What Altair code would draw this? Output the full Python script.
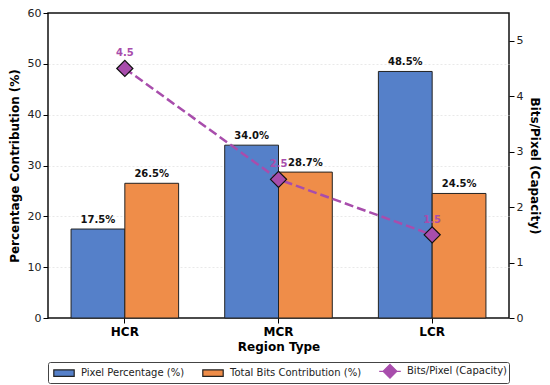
import altair as alt
import pandas as pd

categories = ["HCR", "MCR", "LCR"]
pixel_pct = [17.5, 34.0, 48.5]
bits_contrib = [26.5, 28.7, 24.5]
bits_per_pixel = [4.5, 2.5, 1.5]

S1 = "Pixel Percentage (%)"
S2 = "Total Bits Contribution (%)"
S3 = "Bits/Pixel (Capacity)"
SERIES = [S1, S2, S3]

BLUE = "#5580C9"
ORANGE = "#EF8D49"
PURPLE = "#A84DAC"
FONT = "DejaVu Sans"

RECT = "M-1.7,-0.55H1.7V0.55H-1.7Z"
LINEDIAMOND = "M-1.8,0H-1.15M1.15,0H1.8M0,-1.15L1.15,0L0,1.15L-1.15,0Z"

rows = []
for c, a, b in zip(categories, pixel_pct, bits_contrib):
    rows.append({"cat": c, "series": S1, "value": a})
    rows.append({"cat": c, "series": S2, "value": b})
bars_df = pd.DataFrame(rows)
line_df = pd.DataFrame({"cat": categories, "bpp": bits_per_pixel})

xenc = alt.X("cat:N", sort=categories,
             scale=alt.Scale(paddingInner=0.3, paddingOuter=0.15),
             axis=alt.Axis(title="Region Type", labelAngle=0, labelFontWeight="bold",
                           labelFontSize=12, titleFontSize=12, titleFontWeight="bold",
                           tickSize=5, tickColor="#000", domain=False, labelPadding=3,
                           titlePadding=4, labelColor="#000", titleColor="#000"))
xoff = alt.XOffset("series:N", sort=[S1, S2], scale=alt.Scale(domain=[S1, S2], paddingInner=0, paddingOuter=0))
yleft = alt.Y("value:Q", scale=alt.Scale(domain=[0, 60], nice=False),
              axis=alt.Axis(title="Percentage Contribution (%)", values=[0, 10, 20, 30, 40, 50, 60],
                            grid=True, gridDash=[2, 2],
                            gridColor={"condition": {"test": "datum.value === 0 || datum.value === 60",
                                                     "value": "transparent"}, "value": "#e3e3e3"},
                            gridWidth=0.8,
                            tickSize=5, tickColor="#000", domain=False, labelFontSize=11,
                            titleFontSize=12, titleFontWeight="bold", labelColor="#222",
                            titleColor="#000", titlePadding=6))

legend = alt.Legend(title=None, orient="none", legendX=0, legendY=349,
                    direction="horizontal", columns=3, symbolSize=144,
                    labelFontSize=10, labelFont=FONT, labelColor="#222",
                    columnPadding=14, labelOffset=10, padding=2,
                    symbolStrokeWidth=1.2, symbolOpacity=1, symbolOffset=7,
                    strokeColor="#444", fillColor="#fff", cornerRadius=2)

color_scale = alt.Scale(domain=SERIES, range=[BLUE, ORANGE, PURPLE])

bars = alt.Chart(bars_df).mark_bar(stroke="#222", strokeWidth=1).encode(
    x=xenc, xOffset=xoff, y=yleft,
    color=alt.Color("series:N", scale=color_scale, legend=legend),
)

legend_pts = alt.Chart(bars_df).transform_filter("false").mark_point(filled=True, opacity=1).encode(
    x=alt.X("cat:N", sort=categories), y=alt.Y("value:Q"),
    color=alt.Color("series:N", scale=color_scale, legend=legend),
    shape=alt.Shape("series:N", scale=alt.Scale(domain=SERIES, range=[RECT, RECT, LINEDIAMOND]), legend=legend),
    stroke=alt.Stroke("series:N", scale=alt.Scale(domain=SERIES, range=["#222", "#222", PURPLE]), legend=legend),
)

bar_text = alt.Chart(bars_df).transform_calculate(
    label="format(datum.value, '.1f') + '%'"
).mark_text(baseline="bottom", dy=-4, fontWeight="bold", fontSize=10, color="#111", font=FONT).encode(
    x=alt.X("cat:N", sort=categories), xOffset=alt.XOffset("series:N", sort=[S1, S2]),
    y=alt.Y("value:Q"), text="label:N"
)

yright = alt.Y("bpp:Q", scale=alt.Scale(domain=[0, 5.5], nice=False),
               axis=alt.Axis(title="Bits/Pixel (Capacity)", orient="right", values=[0, 1, 2, 3, 4, 5],
                             format="d", grid=False, tickSize=5, tickColor="#000", domain=False,
                             labelFontSize=11, titleFontSize=12, titleFontWeight="bold",
                             labelColor="#222", titleColor="#000", titlePadding=5))

line = alt.Chart(line_df).mark_line(color=PURPLE, strokeWidth=2.5, strokeDash=[9, 4]).encode(
    x=alt.X("cat:N", sort=categories), y=yright
)
pts = alt.Chart(line_df).mark_point(shape="diamond", size=260, filled=True, fill=PURPLE,
                                     stroke="#111", strokeWidth=1.2, opacity=1).encode(
    x=alt.X("cat:N", sort=categories), y=alt.Y("bpp:Q")
)
line_text = alt.Chart(line_df).mark_text(dy=-15, fontWeight="bold", fontSize=10, color=PURPLE,
                                         font=FONT).encode(
    x=alt.X("cat:N", sort=categories), y=alt.Y("bpp:Q"), text=alt.Text("bpp:Q", format=".1f")
)

chart = alt.layer(
    alt.layer(bars, legend_pts, bar_text),
    alt.layer(line, pts, line_text),
).resolve_scale(y="independent").properties(
    width=461, height=305,
    autosize=alt.AutoSizeParams(type="none"),
    padding={"left": 40, "top": 5, "right": 33, "bottom": 67},
).configure(font=FONT).configure_view(stroke="#111", strokeWidth=1.5)

chart.save("out.html", embed_options={"renderer": "svg", "actions": False})
